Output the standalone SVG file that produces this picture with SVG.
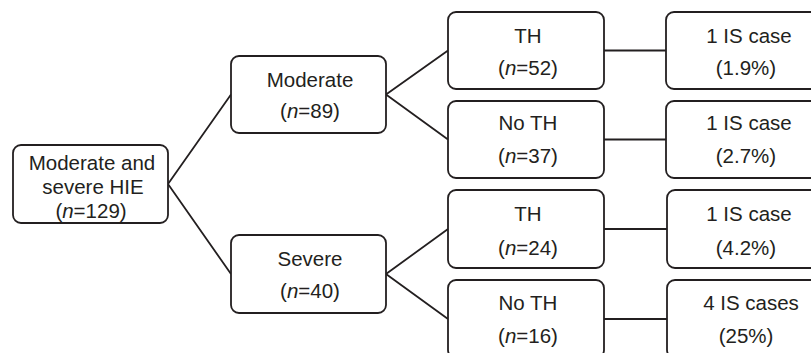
<svg xmlns="http://www.w3.org/2000/svg" width="811" height="353" viewBox="0 0 811 353">
<style>
.box{fill:#fff;stroke:#231f20;stroke-width:1.8}
.t{font-family:"Liberation Sans",Arial,Helvetica,sans-serif;font-size:20.5px;fill:#231f20;text-anchor:middle}
.i{font-style:italic}
.c{stroke:#231f20;stroke-width:1.8;fill:none}
</style>
<rect width="811" height="353" fill="#fff"/>
<g id="connectors">
<path class="c" d="M168,184 L231,94.5 M168,184 L231,274"/>
<path class="c" d="M386,94.5 L448,50.5 M386,94.5 L448,139.5"/>
<path class="c" d="M386,274 L448,229 M386,274 L448,319"/>
<path class="c" d="M604,50.5 L666,50.5 M604,139.5 L666,139.5 M604,229 L667,229 M604,319 L667,319"/>
</g>
<g id="root">
<rect class="box" x="13" y="145" width="155" height="78" rx="8"/>
<text class="t" x="92" y="169.5">Moderate and</text>
<text class="t" x="93" y="193.5">severe HIE</text>
<text class="t" x="91" y="217.5">(<tspan class="i">n</tspan>=129)</text>
</g>
<g id="moderate">
<rect class="box" x="231" y="56" width="155" height="77" rx="8"/>
<text class="t" x="310" y="86.5">Moderate</text>
<text class="t" x="310" y="117.5">(<tspan class="i">n</tspan>=89)</text>
</g>
<g id="severe">
<rect class="box" x="231" y="235" width="155" height="78" rx="8"/>
<text class="t" x="310" y="266">Severe</text>
<text class="t" x="310" y="298">(<tspan class="i">n</tspan>=40)</text>
</g>
<g id="th1">
<rect class="box" x="448" y="12" width="156" height="77" rx="8"/>
<text class="t" x="528" y="42.5">TH</text>
<text class="t" x="528" y="74.5">(<tspan class="i">n</tspan>=52)</text>
</g>
<g id="noth1">
<rect class="box" x="448" y="101" width="156" height="77" rx="8"/>
<text class="t" x="528" y="129.5">No TH</text>
<text class="t" x="528" y="163">(<tspan class="i">n</tspan>=37)</text>
</g>
<g id="th2">
<rect class="box" x="448" y="190" width="156" height="78" rx="8"/>
<text class="t" x="528" y="220.5">TH</text>
<text class="t" x="528" y="255">(<tspan class="i">n</tspan>=24)</text>
</g>
<g id="noth2">
<rect class="box" x="448" y="280" width="156" height="78" rx="8"/>
<text class="t" x="528" y="310">No TH</text>
<text class="t" x="528" y="343">(<tspan class="i">n</tspan>=16)</text>
</g>
<g id="is1">
<rect class="box" x="666" y="12" width="160" height="77" rx="8"/>
<text class="t" x="749" y="42.5">1 IS case</text>
<text class="t" x="746" y="75">(1.9%)</text>
</g>
<g id="is2">
<rect class="box" x="666" y="101" width="160" height="77" rx="8"/>
<text class="t" x="749" y="129.5">1 IS case</text>
<text class="t" x="746" y="163">(2.7%)</text>
</g>
<g id="is3">
<rect class="box" x="667" y="190" width="160" height="78" rx="8"/>
<text class="t" x="749" y="220.5">1 IS case</text>
<text class="t" x="746" y="255">(4.2%)</text>
</g>
<g id="is4">
<rect class="box" x="667" y="280" width="160" height="78" rx="8"/>
<text class="t" x="751" y="310">4 IS cases</text>
<text class="t" x="746" y="343">(25%)</text>
</g>
</svg>
